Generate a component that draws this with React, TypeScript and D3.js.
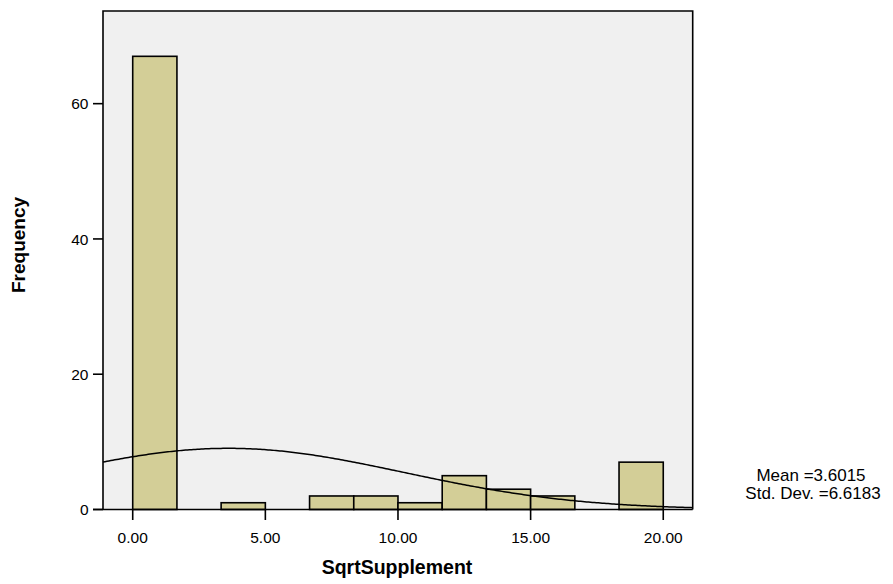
import React from "react";
import * as d3 from "d3";

const binEdges = [0, 1.667, 3.333, 5, 6.667, 8.333, 10, 11.667, 13.333, 15, 16.667, 18.333, 20];
const counts = [67, 0, 1, 0, 2, 2, 1, 5, 3, 2, 0, 7];
const xTicks = [0, 5, 10, 15, 20];
const yTicks = [0, 20, 40, 60];
const meanVal = 3.6015;
const sdVal = 6.6183;
const nTotal = 90;

const W = 893;
const H = 584;
const FONT = "Arial, 'Liberation Sans', sans-serif";

export default function App() {
  const left = 103, right = 692.7, top = 11, bottom = 509.5;
  const x = d3.scaleLinear().domain([-1.12, 21.11]).range([left, right]);
  const y = d3.scaleLinear().domain([0, 73.7]).range([bottom, top]);
  const bw = binEdges[1] - binEdges[0];
  const curvePts: [number, number][] = [];
  const [d0, d1] = x.domain();
  for (let i = 0; i <= 300; i++) {
    const v = d0 + ((d1 - d0) * i) / 300;
    const pdf = Math.exp(-0.5 * ((v - meanVal) / sdVal) ** 2) / (sdVal * Math.sqrt(2 * Math.PI));
    curvePts.push([v, nTotal * bw * pdf]);
  }
  const line = d3.line<[number, number]>().x((d) => x(d[0])).y((d) => y(d[1]));

  return (
    <svg width={W} height={H} style={{ position: "absolute", left: 0, top: 0 }} fontFamily={FONT}>
      <rect x={left} y={top} width={right - left} height={bottom - top} fill="#f0f0f0" />
      {counts.map((c, i) =>
        c > 0 ? (
          <rect
            key={i}
            x={x(binEdges[i])}
            y={y(c)}
            width={x(binEdges[i + 1]) - x(binEdges[i])}
            height={y(0) - y(c)}
            fill="#d3ce97"
            stroke="#000"
            strokeWidth={1.6}
          />
        ) : null
      )}
      <path d={line(curvePts) || ""} fill="none" stroke="#000" strokeWidth={1.5} />
      <path
        d={`M${left},${bottom}V${top}H${right}V${bottom}`}
        fill="none"
        stroke="#000"
        strokeWidth={1.6}
      />
      <line x1={93} x2={right} y1={bottom} y2={bottom} stroke="#000" strokeWidth={1.6} />
      {yTicks.map((t) => (
        <g key={t}>
          <line x1={93} x2={left} y1={y(t)} y2={y(t)} stroke="#000" strokeWidth={1.6} />
          <text x={88.5} y={y(t)} dy="0.36em" textAnchor="end" fontSize={15.5} fill="#000">
            {t}
          </text>
        </g>
      ))}
      {xTicks.map((t) => (
        <g key={t}>
          <line x1={x(t)} x2={x(t)} y1={bottom} y2={520} stroke="#000" strokeWidth={1.6} />
          <text x={x(t)} y={543} textAnchor="middle" fontSize={15.5} fill="#000">
            {t.toFixed(2)}
          </text>
        </g>
      ))}
      <text x={397} y={574} textAnchor="middle" fontSize={19.5} fontWeight="bold" fill="#000">
        SqrtSupplement
      </text>
      <text
        transform="translate(25,245) rotate(-90)"
        textAnchor="middle"
        fontSize={19}
        fontWeight="bold"
        fill="#000"
      >
        Frequency
      </text>
      <text x={811} y={480.5} textAnchor="middle" fontSize={17} fill="#000">
        Mean =3.6015
      </text>
      <text x={813} y={498.5} textAnchor="middle" fontSize={17} fill="#000">
        Std. Dev. =6.6183
      </text>
    </svg>
  );
}
